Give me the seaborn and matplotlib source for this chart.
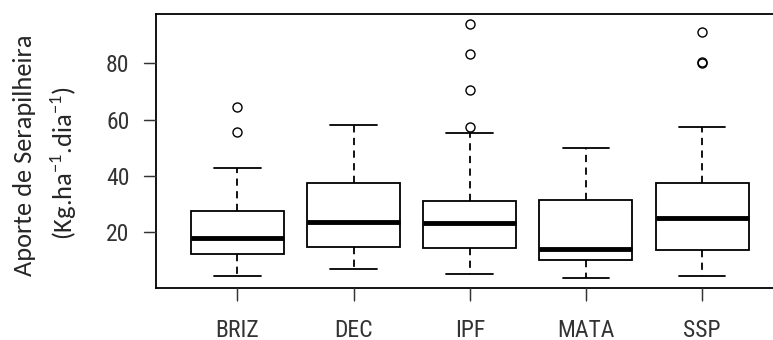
import pandas as pd
import matplotlib
matplotlib.use("Agg")
import matplotlib.pyplot as plt
import seaborn as sns

# sites (x categories)
sites = ["BRIZ", "DEC", "IPF", "MATA", "SSP"]

# litterfall samples per site (Kg.ha-1.dia-1)
briz = [4.7, 8.0, 10.5, 12.2, 14.0, 16.0, 17.9, 21.0, 24.5, 27.5, 42.7, 55.5, 64.4]
dec = [7.0, 11.0, 14.8, 19.5, 23.7, 30.0, 37.4, 46.0, 58.2]
ipf = [5.3, 8.0, 10.0, 12.0, 13.2, 14.3, 16.0, 18.0, 20.0, 21.8, 23.3,
       24.5, 26.0, 28.0, 29.5, 31.0, 55.1, 57.3, 70.3, 83.3, 93.8]
mata = [3.9, 7.5, 10.2, 12.0, 14.2, 22.0, 31.6, 40.0, 49.9]
ssp = [4.4, 7.0, 9.5, 12.0, 13.9, 17.0, 20.0, 23.0, 25.2, 28.0, 31.0,
       34.5, 37.4, 57.2, 79.9, 80.3, 91.1]

y_ticks = [20, 40, 60, 80]

# long table for seaborn
samples = [briz, dec, ipf, mata, ssp]
df = pd.concat([pd.DataFrame({"local": s, "aporte": v})
                for s, v in zip(sites, samples)], ignore_index=True)

sns.set_style("ticks")
plt.rcParams["font.family"] = ["Roboto Condensed", "Liberation Sans", "DejaVu Sans"]
plt.rcParams["mathtext.fontset"] = "custom"
plt.rcParams["mathtext.rm"] = "Carlito"

fig = plt.figure(figsize=(7.73, 3.40), dpi=100)
ax_w, ax_h = 627.4, 274.0   # axes size in pixels
ax = fig.add_axes([156 / 773, 52 / 340, ax_w / 773, ax_h / 340])

sns.boxplot(data=df, x="local", y="aporte", order=sites, ax=ax,
            width=0.8, color="white", linecolor="black", linewidth=1.3,
            whis=1.5,
            medianprops=dict(color="black", linewidth=3.5),
            whiskerprops=dict(color="black", linewidth=1.3, linestyle=(0, (4, 3))),
            capprops=dict(color="black", linewidth=1.3),
            boxprops=dict(edgecolor="black", linewidth=1.3, facecolor="white"),
            flierprops=dict(marker="o", markersize=6.5, markerfacecolor="none",
                            markeredgecolor="black", markeredgewidth=1.0))

ax.set_xlim(-0.7, 4.7)
ax.set_ylim(0.3, 97.4)
ax.set_yticks(y_ticks)
ax.set_xlabel("")
ax.set_ylabel("")

for sp in ax.spines.values():
    sp.set_visible(True)
    sp.set_color("black")
    sp.set_linewidth(1.3)

ax.tick_params(axis="both", length=9, labelcolor="#333333", labelsize=17)
ax.tick_params(axis="x", pad=13)
ax.tick_params(axis="y", pad=10)

# outward tick marks (12 px), at the axis' own tick positions
tick_len = 12
for yv in ax.get_yticks():
    ax.plot([-tick_len / ax_w, 0], [yv, yv], transform=ax.get_yaxis_transform(),
            color="#333333", lw=1.0, clip_on=False, zorder=5)
for xv in ax.get_xticks():
    ax.plot([xv, xv], [-tick_len / ax_h, 0], transform=ax.get_xaxis_transform(),
            color="#333333", lw=1.0, clip_on=False, zorder=5)

fig.text(25 / 773, 1 - 155 / 340, "Aporte de Serapilheira", rotation=90,
         ha="center", va="center", fontsize=19, family="Carlito")
fig.text(64 / 773, 1 - 163 / 340, r"(Kg.ha$^{-1}$.dia$^{-1}$)", rotation=90,
         ha="center", va="center", fontsize=19, family="Carlito")

fig.savefig("out.png", dpi=100)
